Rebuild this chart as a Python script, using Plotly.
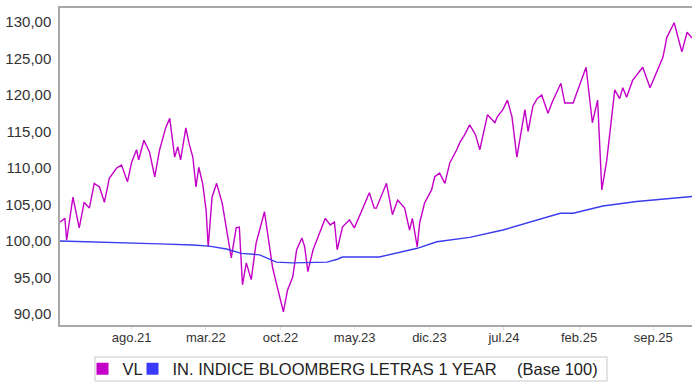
import plotly.graph_objects as go

# ---- data ----
vl_dates = [
    "2021-01-08", "2021-01-22", "2021-01-27", "2021-02-14", "2021-03-04", "2021-03-18",
    "2021-04-02", "2021-04-16", "2021-05-01", "2021-05-15", "2021-05-29", "2021-06-19",
    "2021-07-03", "2021-07-20", "2021-08-01", "2021-08-15", "2021-08-21", "2021-09-05",
    "2021-09-21", "2021-10-06", "2021-10-20", "2021-11-07", "2021-11-18", "2021-12-02",
    "2021-12-11", "2021-12-19", "2022-01-03", "2022-01-12", "2022-01-23", "2022-02-01",
    "2022-02-09", "2022-02-20", "2022-03-02", "2022-03-08", "2022-03-19", "2022-04-01",
    "2022-04-17", "2022-04-29", "2022-05-13", "2022-05-27", "2022-06-05", "2022-06-14",
    "2022-06-25", "2022-07-09", "2022-07-23", "2022-08-16", "2022-08-27", "2022-09-08",
    "2022-09-19", "2022-10-04", "2022-10-09", "2022-10-21", "2022-11-05", "2022-11-16",
    "2022-12-01", "2022-12-09", "2022-12-18", "2023-01-02", "2023-01-16", "2023-02-06",
    "2023-02-20", "2023-03-04", "2023-03-12", "2023-03-27", "2023-04-16", "2023-04-30",
    "2023-05-20", "2023-06-12", "2023-06-26", "2023-07-02", "2023-07-31", "2023-08-17",
    "2023-09-01", "2023-09-21", "2023-10-05", "2023-10-13", "2023-10-27", "2023-11-03",
    "2023-11-17", "2023-12-07", "2023-12-16", "2023-12-30", "2024-01-14", "2024-01-28",
    "2024-02-17", "2024-02-26", "2024-03-10", "2024-03-25", "2024-04-03", "2024-04-11",
    "2024-04-23", "2024-05-15", "2024-06-05", "2024-06-12", "2024-06-28", "2024-07-11",
    "2024-07-24", "2024-08-07", "2024-08-30", "2024-09-08", "2024-09-22", "2024-10-04",
    "2024-10-17", "2024-11-04", "2024-11-16", "2024-11-28", "2024-12-11", "2024-12-22",
    "2025-01-15", "2025-01-27", "2025-02-10", "2025-02-21", "2025-03-11", "2025-03-26",
    "2025-04-07", "2025-04-21", "2025-05-14", "2025-05-28", "2025-06-06", "2025-06-17",
    "2025-07-04", "2025-08-02", "2025-08-23", "2025-09-06", "2025-09-15", "2025-09-29",
    "2025-10-10", "2025-10-31", "2025-11-22", "2025-12-07", "2025-12-21",
]
vl_values = [
    102.6, 103.1, 100.1, 106.0, 101.8, 105.3,
    104.5, 107.9, 107.4, 105.3, 108.6, 110.0,
    110.4, 108.1, 110.8, 112.5, 111.1, 113.8,
    112.2, 108.8, 112.5, 115.6, 116.8, 111.5,
    112.9, 111.1, 115.5, 113.4, 111.5, 107.4,
    110.1, 107.9, 104.2, 99.2, 106.0, 107.9,
    105.2, 101.9, 97.7, 101.8, 101.9, 94.0,
    97.0, 94.7, 99.7, 104.0, 100.5, 96.4,
    94.2, 91.5, 90.3, 93.3, 95.1, 98.8,
    100.4, 99.2, 95.8, 98.8, 100.5, 103.1,
    102.2, 102.6, 98.8, 101.9, 102.9, 101.8,
    104.0, 106.6, 104.5, 104.5, 107.9, 103.6,
    105.6, 104.5, 101.5, 103.1, 99.2, 102.5,
    105.2, 107.0, 108.8, 109.3, 107.9, 110.7,
    112.5, 113.5, 114.5, 115.9, 115.2, 114.5,
    112.5, 117.3, 116.2, 117.0, 118.0, 119.3,
    117.0, 111.5, 118.0, 115.0, 118.5, 119.5,
    120.0, 117.5, 119.0, 120.3, 121.6, 118.9,
    118.9, 120.5, 122.5, 123.8, 116.2, 119.3,
    107.0, 111.0, 120.7, 119.5, 121.0, 119.7,
    122.0, 123.8, 121.0, 122.5, 123.5, 125.2,
    127.9, 129.9, 125.9, 128.6, 127.8,
]

idx_dates = [
    "2021-01-08", "2021-07-17", "2021-10-20", "2022-01-23", "2022-03-11", "2022-04-29",
    "2022-06-11", "2022-08-02", "2022-09-19", "2022-11-05", "2023-02-11", "2023-03-12",
    "2023-03-27", "2023-07-10", "2023-09-16", "2023-10-27", "2023-12-22", "2024-03-25",
    "2024-06-28", "2024-10-04", "2024-12-09", "2025-01-15", "2025-04-10", "2025-07-16",
    "2025-10-19", "2025-12-21",
]
idx_values = [
    100.0, 99.8, 99.6, 99.45, 99.3, 98.9,
    98.3, 98.1, 97.1, 97.0, 97.1, 97.5,
    97.8, 97.8, 98.5, 99.0, 99.9, 100.5,
    101.5, 102.9, 103.8, 103.8, 104.8, 105.4,
    105.8, 106.1,
]

x_tick_dates = ["2021-08-01", "2022-03-01", "2022-10-01", "2023-05-01",
                "2023-12-01", "2024-07-01", "2025-02-01", "2025-09-01"]
x_tick_labels = ["ago.21", "mar.22", "oct.22", "may.23", "dic.23", "jul.24", "feb.25", "sep.25"]
y_tick_values = [90, 95, 100, 105, 110, 115, 120, 125, 130]

series_names = ["VL", "IN. INDICE BLOOMBERG LETRAS 1 YEAR"]
legend_note = "(Base 100)"

VL_COLOR = "#C400C8"
IDX_COLOR = "#3B3BF0"
FONT = "Liberation Sans, Arial, sans-serif"
LEG_FONT = dict(family=FONT, size=16.5, color="#222222")

fig = go.Figure()
fig.add_trace(go.Scatter(x=vl_dates, y=vl_values, mode="lines", name=series_names[0],
                         line=dict(color=VL_COLOR, width=1.4), showlegend=False))
fig.add_trace(go.Scatter(x=idx_dates, y=idx_values, mode="lines", name=series_names[1],
                         line=dict(color=IDX_COLOR, width=1.4), showlegend=False))
# legend entries (square swatches), one per legend box
fig.add_trace(go.Scatter(x=[None], y=[None], mode="markers", name=series_names[0],
                         marker=dict(symbol="square", size=12, color=VL_COLOR),
                         legend="legend"))
fig.add_trace(go.Scatter(x=[None], y=[None], mode="markers", name=series_names[1],
                         marker=dict(symbol="square", size=12, color="#3A3AFF"),
                         legend="legend2"))

common_leg = dict(orientation="h", xanchor="left", yanchor="middle", y=-0.1388,
                  bgcolor="rgba(0,0,0,0)", borderwidth=0, font=LEG_FONT, itemwidth=30)

fig.update_layout(
    width=692, height=383,
    margin=dict(l=60, r=0, t=8, b=58, autoexpand=False),
    paper_bgcolor="white", plot_bgcolor="white",
    separators=",.",
    font=dict(family=FONT, size=14, color="#333333"),
    showlegend=True,
    legend=dict(x=0.0356, **common_leg),
    legend2=dict(x=0.1147, **common_leg),
    shapes=[dict(type="rect", xref="paper", yref="paper",
                 x0=0.0554, x1=0.8655, y0=-0.1767, y1=-0.1009,
                 line=dict(color="#C8C8C8", width=1), fillcolor="rgba(0,0,0,0)")],
    annotations=[dict(text=legend_note, xref="paper", yref="paper",
                      x=0.8544, y=-0.1388, xanchor="right", yanchor="middle",
                      showarrow=False, font=LEG_FONT)],
)
fig.update_xaxes(
    type="date", range=["2021-01-08", "2025-12-21"],
    tickvals=x_tick_dates, ticktext=x_tick_labels,
    showgrid=False, zeroline=False, automargin=False,
    showline=True, linecolor="#A8A8A8", linewidth=1.5, mirror=True,
    ticks="outside", ticklen=3, tickcolor="#E0E0E0", ticklabelstandoff=-3,
    tickfont=dict(family=FONT, size=13, color="#333333"),
)
fig.update_yaxes(
    range=[88.49, 131.92], tickvals=y_tick_values, tickformat=".2f",
    showgrid=False, zeroline=False, automargin=False,
    showline=True, linecolor="#A8A8A8", linewidth=1.5, mirror=True,
    ticks="", ticklabelstandoff=4,
    tickfont=dict(family=FONT, size=15, color="#333333"),
)

# page body default margin removed so the 692x383 figure fills the window exactly
fig.write_html("out.html",
               config={"displayModeBar": False},
               post_script="document.body.style.margin='0px';"
                           "document.documentElement.style.overflow='hidden';")
